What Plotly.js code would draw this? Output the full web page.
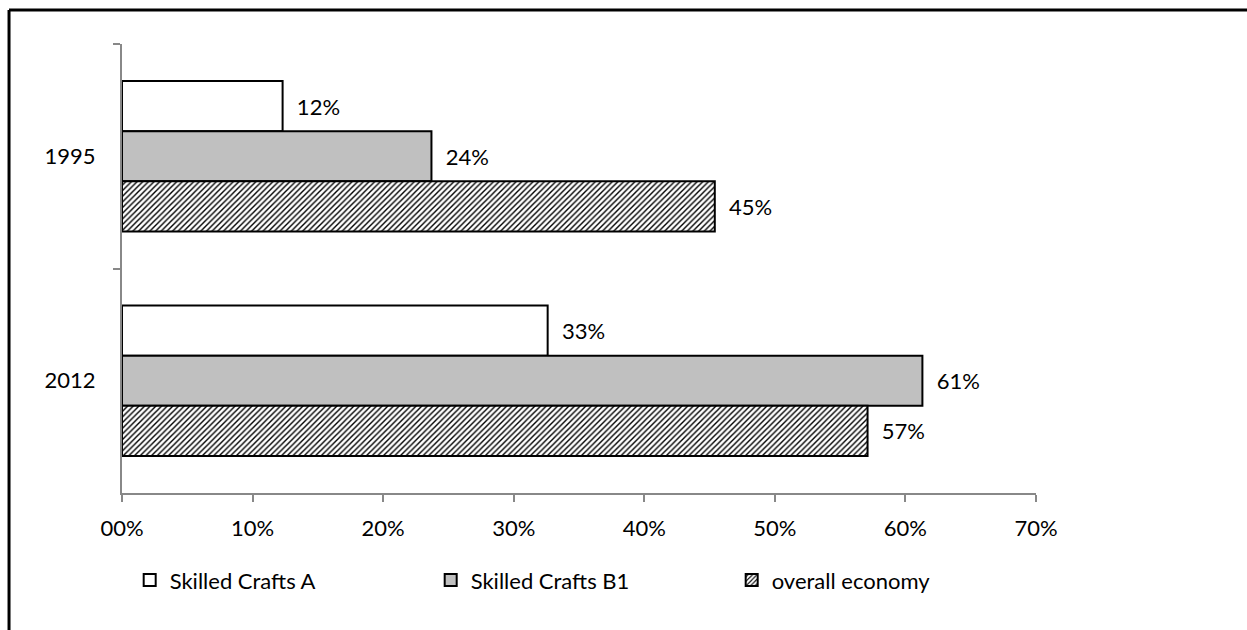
<!DOCTYPE html>
<html>
<head>
<meta charset="utf-8">
<script src="https://cdn.plot.ly/plotly-3.0.1.min.js"></script>
<style>html,body{margin:0;padding:0;background:#fff;}#chart{width:1247px;height:630px;}</style>
</head>
<body>
<div id="chart"></div>
<script>
const categories = ["1995", "2012"];
const seriesNames = ["Skilled Crafts A", "Skilled Crafts B1", "overall economy"];
const craftsA = [12.3, 32.6];
const craftsB1 = [23.7, 61.3];
const overall = [45.4, 57.1];
const tickValues = [0, 10, 20, 30, 40, 50, 60, 70];
const tickLabels = ["00%", "10%", "20%", "30%", "40%", "50%", "60%", "70%"];

const FONT = "Lato, 'Open Sans', sans-serif";
const textColor = "#000";
const label = "\u00A0\u00A0%{x:.0f}%";

function bar(name, vals, marker) {
  return {
    type: "bar", orientation: "h", name: name,
    y: categories, x: vals,
    marker: marker,
    texttemplate: label, textposition: "outside", cliponaxis: false,
    textfont: {family: FONT, size: 22, color: textColor},
    hoverinfo: "skip"
  };
}

const data = [
  bar(seriesNames[0], craftsA, {color: "#ffffff", line: {color: "#000", width: 2}}),
  bar(seriesNames[1], craftsB1, {color: "#c0c0c0", line: {color: "#000", width: 2}}),
  bar(seriesNames[2], overall, {color: "#ffffff", line: {color: "#000", width: 2},
    pattern: {shape: "/", fgcolor: "#000", bgcolor: "#fff", size: 4, solidity: 0.35}})
];

const layout = {
  width: 1247, height: 630,
  margin: {l: 122, r: 211, t: 44, b: 137, autoexpand: false},
  paper_bgcolor: "#fff", plot_bgcolor: "#fff",
  barmode: "group", bargap: 0.33, bargroupgap: 0,
  font: {family: FONT, size: 22, color: textColor},
  showlegend: true,
  legend: {orientation: "h", xref: "container", yref: "container",
    x: 0.104, xanchor: "left", y: 0.079, yanchor: "middle",
    font: {family: FONT, size: 22, color: textColor},
    entrywidth: 256, entrywidthmode: "pixels", traceorder: "normal"},
  xaxis: {range: [0, 70], tickvals: tickValues, ticktext: tickLabels,
    showgrid: false, zeroline: false, showline: true, linecolor: "#888", linewidth: 2,
    ticks: "outside", ticklen: 7, tickwidth: 2, tickcolor: "#888",
    tickfont: {family: FONT, size: 22, color: textColor}, ticklabelstandoff: 8, fixedrange: true},
  yaxis: {autorange: "reversed", type: "category", tickson: "boundaries",
    showgrid: false, zeroline: false, showline: true, linecolor: "#888", linewidth: 2,
    ticks: "outside", ticklen: 7, tickwidth: 2, tickcolor: "#888",
    tickfont: {family: FONT, size: 22, color: textColor}, ticklabelstandoff: 20, fixedrange: true},
  shapes: [
    {type: "line", xref: "paper", yref: "paper", x0: -0.1236, x1: 1.3, y0: 1.0757, y1: 1.0757,
      line: {color: "#000", width: 3}},
    {type: "line", xref: "paper", yref: "paper", x0: -0.1236, x1: -0.1236, y0: 1.0757, y1: -0.4,
      line: {color: "#000", width: 3}}
  ]
};

Plotly.newPlot("chart", data, layout, {displayModeBar: false, staticPlot: true});
</script>
</body>
</html>
